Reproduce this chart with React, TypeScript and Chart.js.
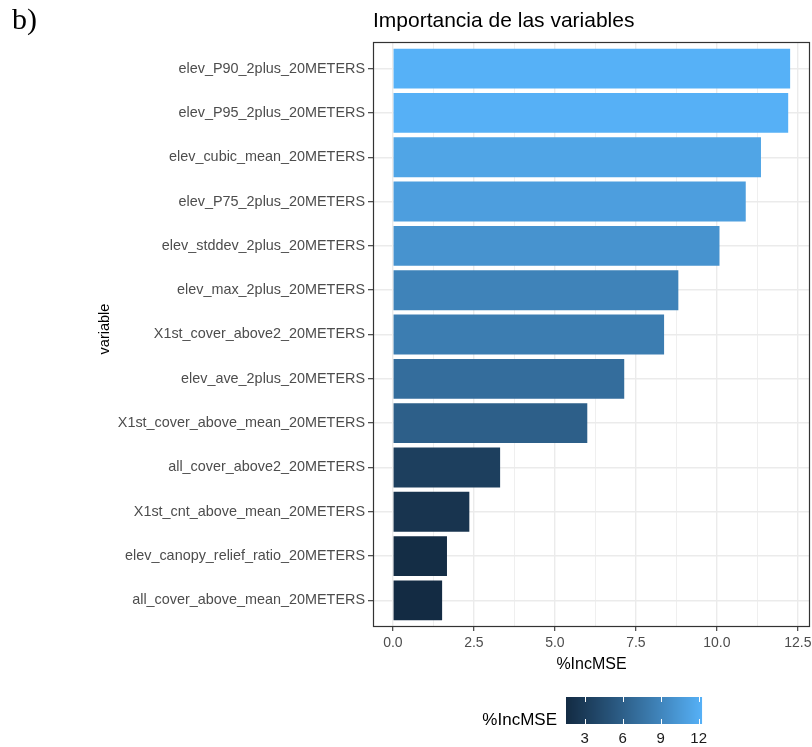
import React, { useEffect, useRef } from "react";
import { Chart, registerables } from "chart.js";

Chart.register(...registerables);

// Variables ordered from most to least important
const variables = [
  "elev_P90_2plus_20METERS",
  "elev_P95_2plus_20METERS",
  "elev_cubic_mean_20METERS",
  "elev_P75_2plus_20METERS",
  "elev_stddev_2plus_20METERS",
  "elev_max_2plus_20METERS",
  "X1st_cover_above2_20METERS",
  "elev_ave_2plus_20METERS",
  "X1st_cover_above_mean_20METERS",
  "all_cover_above2_20METERS",
  "X1st_cnt_above_mean_20METERS",
  "elev_canopy_relief_ratio_20METERS",
  "all_cover_above_mean_20METERS",
];

// %IncMSE for each variable
const incMSE = [12.26, 12.2, 11.36, 10.89, 10.08, 8.81, 8.37, 7.14, 6.0, 3.31, 2.36, 1.67, 1.52];

// Axis and legend breaks
const xMajorStep = 2.5;
const xMinorStep = 1.25;
const xTickMax = 12.5;
const legendBreaks = [3, 6, 9, 12];

const lowColour = "#132B43";
const highColour = "#56B1F7";

const SANS = "'Liberation Sans', Arial, sans-serif";

// ---- colour interpolation in CIE Lab ----
type Vec3 = [number, number, number];
const Xn = 0.95047, Yn = 1.0, Zn = 1.08883;

function hexToRgb(h: string): Vec3 {
  const n = parseInt(h.slice(1), 16);
  return [(n >> 16) & 255, (n >> 8) & 255, n & 255];
}
function toLinear(c: number) {
  const v = c / 255;
  return v <= 0.04045 ? v / 12.92 : Math.pow((v + 0.055) / 1.055, 2.4);
}
function fromLinear(c: number) {
  const v = c <= 0.0031308 ? 12.92 * c : 1.055 * Math.pow(c, 1 / 2.4) - 0.055;
  return Math.round(Math.min(1, Math.max(0, v)) * 255);
}
function rgbToLab(rgb: Vec3): Vec3 {
  const [R, G, B] = rgb.map(toLinear);
  const X = 0.4124564 * R + 0.3575761 * G + 0.1804375 * B;
  const Y = 0.2126729 * R + 0.7151522 * G + 0.072175 * B;
  const Z = 0.0193339 * R + 0.119192 * G + 0.9503041 * B;
  const f = (t: number) => (t > 0.008856 ? Math.cbrt(t) : 7.787 * t + 16 / 116);
  const fx = f(X / Xn), fy = f(Y / Yn), fz = f(Z / Zn);
  return [116 * fy - 16, 500 * (fx - fy), 200 * (fy - fz)];
}
function labToRgb(lab: Vec3): Vec3 {
  const [L, a, b] = lab;
  const fy = (L + 16) / 116;
  const fx = fy + a / 500;
  const fz = fy - b / 200;
  const inv = (t: number) => (t * t * t > 0.008856 ? t * t * t : (t - 16 / 116) / 7.787);
  const X = Xn * inv(fx), Y = Yn * inv(fy), Z = Zn * inv(fz);
  const R = 3.2404542 * X - 1.5371385 * Y - 0.4985314 * Z;
  const G = -0.969266 * X + 1.8760108 * Y + 0.041556 * Z;
  const B = 0.0556434 * X - 0.2040259 * Y + 1.0572252 * Z;
  return [fromLinear(R), fromLinear(G), fromLinear(B)];
}

const labLow = rgbToLab(hexToRgb(lowColour));
const labHigh = rgbToLab(hexToRgb(highColour));
const valueMin = Math.min(...incMSE);
const valueMax = Math.max(...incMSE);

function colourFor(v: number) {
  const t = Math.min(1, Math.max(0, (v - valueMin) / (valueMax - valueMin)));
  const lab: Vec3 = [
    labLow[0] + (labHigh[0] - labLow[0]) * t,
    labLow[1] + (labHigh[1] - labLow[1]) * t,
    labLow[2] + (labHigh[2] - labLow[2]) * t,
  ];
  const [r, g, b] = labToRgb(lab);
  return `rgb(${r},${g},${b})`;
}

const isMajor = (v: number) => Math.abs(v / xMajorStep - Math.round(v / xMajorStep)) < 1e-6;

// 5% expansion either side of the data range, like a ggplot continuous scale
const xExpand = (valueMax - 0) * 0.05;

// Panel border, figure label, titles and colour-bar legend
const decorations = {
  id: "decorations",
  afterDraw(chart: Chart) {
    const { ctx, chartArea } = chart;
    ctx.save();

    // panel border
    ctx.strokeStyle = "#333333";
    ctx.lineWidth = 1.2;
    ctx.strokeRect(
      chartArea.left + 0.5,
      chartArea.top + 0.5,
      chartArea.right - chartArea.left - 1,
      chartArea.bottom - chartArea.top - 1
    );

    // figure label
    ctx.fillStyle = "#000000";
    ctx.textBaseline = "alphabetic";
    ctx.textAlign = "left";
    ctx.font = "30px 'Liberation Serif', 'Times New Roman', serif";
    ctx.fillText("b)", 12, 29);

    // chart title
    ctx.font = `21px ${SANS}`;
    ctx.fillText("Importancia de las variables", chartArea.left, 27);

    // y axis title
    ctx.save();
    ctx.translate(105, 329);
    ctx.rotate(-Math.PI / 2);
    ctx.textAlign = "center";
    ctx.textBaseline = "middle";
    ctx.font = `14.5px ${SANS}`;
    ctx.fillText("variable", 0, 0);
    ctx.restore();

    // colour bar legend
    const barLeft = 566, barRight = 702, barTop = 697, barBottom = 724;
    const barW = barRight - barLeft;
    for (let i = 0; i < barW; i++) {
      const v = valueMin + ((i + 0.5) / barW) * (valueMax - valueMin);
      ctx.fillStyle = colourFor(v);
      ctx.fillRect(barLeft + i, barTop, 1.05, barBottom - barTop);
    }
    ctx.strokeStyle = "#ffffff";
    ctx.lineWidth = 1;
    ctx.font = `15px ${SANS}`;
    ctx.textAlign = "center";
    ctx.textBaseline = "alphabetic";
    legendBreaks.forEach((b) => {
      const x = barLeft + ((b - valueMin) / (valueMax - valueMin)) * barW;
      const px = Math.round(x) + 0.5;
      ctx.beginPath();
      ctx.moveTo(px, barTop);
      ctx.lineTo(px, barTop + 5);
      ctx.moveTo(px, barBottom - 5);
      ctx.lineTo(px, barBottom);
      ctx.stroke();
      ctx.fillStyle = "#1a1a1a";
      ctx.fillText(String(b), x, 743);
    });
    ctx.fillStyle = "#000000";
    ctx.textAlign = "right";
    ctx.font = `17px ${SANS}`;
    ctx.fillText("%IncMSE", 557, 725);

    ctx.restore();
  },
};

export default function App() {
  const canvasRef = useRef<HTMLCanvasElement | null>(null);

  useEffect(() => {
    if (!canvasRef.current) return;
    const chart = new Chart(canvasRef.current, {
      type: "bar",
      data: {
        datasets: [
          {
            data: incMSE.map((v, i) => ({ x: v, y: i })),
            backgroundColor: incMSE.map(colourFor),
            borderWidth: 0,
            barPercentage: 0.9,
            categoryPercentage: 1,
          },
        ],
      },
      options: {
        indexAxis: "y",
        animation: false,
        responsive: true,
        maintainAspectRatio: false,
        layout: { padding: { left: 92, top: 42, right: 2, bottom: 70 } },
        plugins: {
          legend: { display: false },
          tooltip: { enabled: false },
          title: { display: false },
        },
        scales: {
          x: {
            type: "linear",
            min: -xExpand,
            max: valueMax + xExpand,
            afterBuildTicks: (scale: any) => {
              const ticks = [];
              for (let v = 0; v <= xTickMax + 1e-9; v += xMinorStep) ticks.push({ value: v });
              scale.ticks = ticks;
            },
            afterFit: (scale: any) => {
              scale.height = 50;
              scale.paddingLeft = 0;
              scale.paddingRight = 0;
            },
            border: { display: false },
            grid: {
              color: "#EBEBEB",
              lineWidth: (c: any) => (c.tick && isMajor(c.tick.value) ? 1.4 : 0.8),
              tickColor: (c: any) => (c.tick && isMajor(c.tick.value) ? "#333333" : "rgba(0,0,0,0)"),
              tickLength: 4,
              tickWidth: 1.1,
            },
            ticks: {
              autoSkip: false,
              maxRotation: 0,
              padding: 4,
              color: "#4D4D4D",
              font: { family: SANS, size: 14 },
              callback: (v: any) => (isMajor(Number(v)) ? Number(v).toFixed(1) : ""),
            },
            title: {
              display: true,
              text: "%IncMSE",
              color: "#000000",
              font: { family: SANS, size: 16 },
              padding: { top: 0, bottom: 3 },
            },
          },
          y: {
            type: "linear",
            reverse: true,
            min: -0.6,
            max: variables.length - 1 + 0.6,
            offset: false,
            afterBuildTicks: (scale: any) => {
              scale.ticks = variables.map((_, i) => ({ value: i }));
            },
            afterFit: (scale: any) => {
              scale.width = 281;
              scale.paddingTop = 0;
              scale.paddingBottom = 0;
            },
            border: { display: false },
            grid: {
              offset: false,
              color: "#EBEBEB",
              lineWidth: 1.4,
              tickColor: "#333333",
              tickLength: 5,
              tickWidth: 1.1,
            },
            ticks: {
              autoSkip: false,
              padding: 3,
              color: "#4D4D4D",
              font: { family: SANS, size: 14.4 },
              callback: (v: any) => variables[Number(v)] ?? "",
            },
            title: { display: false },
          },
        },
      },
      plugins: [decorations],
    } as any);
    return () => chart.destroy();
  }, []);

  return (
    <div style={{ position: "absolute", left: 0, top: 0, width: 812, height: 747, background: "#ffffff" }}>
      <canvas ref={canvasRef} />
    </div>
  );
}
